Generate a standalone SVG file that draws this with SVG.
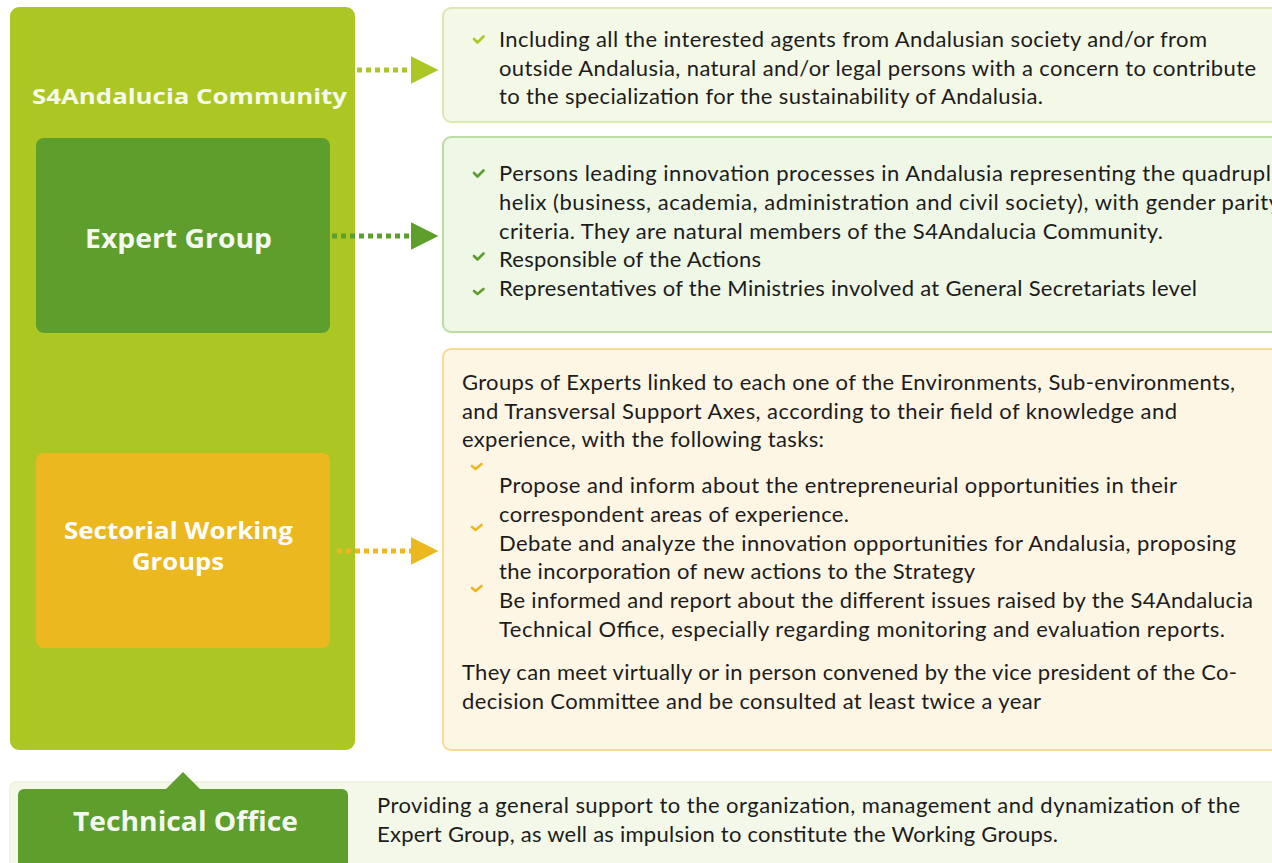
<svg xmlns="http://www.w3.org/2000/svg" width="1272" height="863" viewBox="0 0 1272 863">
<defs>
<style>
.body{font-family:"Lato","Noto Sans","Liberation Sans",sans-serif;font-size:22px;fill:#1c1c1c}
.head{font-family:"Open Sans","Noto Sans","Liberation Sans",sans-serif;font-weight:bold;fill:#ffffff}
.tick{fill:none;stroke-width:2.6;stroke-linecap:round;stroke-linejoin:round}
.dots{fill:none;stroke-width:5;stroke-dasharray:5 4}
</style>
<marker id="arrLime" viewBox="0 0 10 10" refX="0" refY="5" markerWidth="5.5" markerHeight="6" markerUnits="strokeWidth" orient="auto"><path d="M0,0 L10,5 L0,10 Z" fill="#acc723"/></marker>
<marker id="arrGreen" viewBox="0 0 10 10" refX="0" refY="5" markerWidth="5.5" markerHeight="6" markerUnits="strokeWidth" orient="auto"><path d="M0,0 L10,5 L0,10 Z" fill="#5e9e2d"/></marker>
<marker id="arrGold" viewBox="0 0 10 10" refX="0" refY="5" markerWidth="5.5" markerHeight="6" markerUnits="strokeWidth" orient="auto"><path d="M0,0 L10,5 L0,10 Z" fill="#ecb820"/></marker>
</defs>
<rect width="1272" height="863" fill="#ffffff"/>

<g id="community">
<rect x="10" y="7" width="345" height="743" rx="9" fill="#acc723"/>
<text class="head" x="32" y="104" font-size="22" textLength="315" lengthAdjust="spacingAndGlyphs" fill-opacity="0.92">S4Andalucia Community</text>
</g>

<g id="expert-group">
<rect x="36" y="138" width="294" height="195" rx="8" fill="#5e9e2d"/>
<text class="head" x="85" y="248" font-size="27" textLength="187" lengthAdjust="spacingAndGlyphs" fill-opacity="0.95">Expert Group</text>
</g>

<g id="sectorial-groups">
<rect x="36" y="453" width="294" height="195" rx="8" fill="#ecb820"/>
<text class="head" x="64" y="539" font-size="23" textLength="229" lengthAdjust="spacingAndGlyphs" fill="#fdf2d2">Sectorial Working</text>
<text class="head" x="132" y="570" font-size="23" textLength="92" lengthAdjust="spacingAndGlyphs" fill="#fdf2d2">Groups</text>
</g>

<g id="community-desc">
<rect x="443" y="8" width="840" height="114" rx="8" fill="#f4f8e6" stroke="#dde9b4" stroke-width="2"/>
<path class="tick" stroke="#acc723" d="M474,39 l3.5,3.5 l6,-6"/>
<text class="body" x="499" y="47" textLength="708" lengthAdjust="spacing">Including all the interested agents from Andalusian society and/or from</text>
<text class="body" x="499" y="76" textLength="757" lengthAdjust="spacing">outside Andalusia, natural and/or legal persons with a concern to contribute</text>
<text class="body" x="499" y="104" textLength="544" lengthAdjust="spacing">to the specialization for the sustainability of Andalusia.</text>
</g>

<g id="expert-desc">
<rect x="443" y="137" width="840" height="195" rx="8" fill="#eff7e6" stroke="#bddca3" stroke-width="2"/>
<path class="tick" stroke="#5e9e2d" d="M474,173 l3.5,3.5 l6,-6"/>
<path class="tick" stroke="#5e9e2d" d="M474,256 l3.5,3.5 l6,-6"/>
<path class="tick" stroke="#5e9e2d" d="M474,291 l3.5,3 l6,-5"/>
<text class="body" x="499" y="181" textLength="784" lengthAdjust="spacing">Persons leading innovation processes in Andalusia representing the quadruple</text>
<text class="body" x="499" y="210" textLength="781" lengthAdjust="spacing">helix (business, academia, administration and civil society), with gender parity</text>
<text class="body" x="499" y="239" textLength="664" lengthAdjust="spacing">criteria. They are natural members of the S4Andalucia Community.</text>
<text class="body" x="499" y="267" textLength="262" lengthAdjust="spacing">Responsible of the Actions</text>
<text class="body" x="499" y="296" textLength="698" lengthAdjust="spacing">Representatives of the Ministries involved at General Secretariats level</text>
</g>

<g id="sectorial-desc">
<rect x="443" y="349" width="840" height="401" rx="8" fill="#fdf6e4" stroke="#f5dc97" stroke-width="2"/>
<text class="body" x="462" y="390" textLength="773" lengthAdjust="spacing">Groups of Experts linked to each one of the Environments, Sub-environments,</text>
<text class="body" x="462" y="419" textLength="715" lengthAdjust="spacing">and Transversal Support Axes, according to their field of knowledge and</text>
<text class="body" x="462" y="447" textLength="362" lengthAdjust="spacing">experience, with the following tasks:</text>
<path class="tick" stroke="#ecb820" d="M472,466 l3.5,3 l6,-5"/>
<path class="tick" stroke="#ecb820" d="M472,527 l3.5,3 l6,-5"/>
<path class="tick" stroke="#ecb820" d="M472,588 l3.5,3 l6,-5"/>
<text class="body" x="499" y="493" textLength="678" lengthAdjust="spacing">Propose and inform about the entrepreneurial opportunities in their</text>
<text class="body" x="499" y="522" textLength="350" lengthAdjust="spacing">correspondent areas of experience.</text>
<text class="body" x="499" y="551" textLength="737" lengthAdjust="spacing">Debate and analyze the innovation opportunities for Andalusia, proposing</text>
<text class="body" x="499" y="579" textLength="476" lengthAdjust="spacing">the incorporation of new actions to the Strategy</text>
<text class="body" x="499" y="608" textLength="754" lengthAdjust="spacing">Be informed and report about the different issues raised by the S4Andalucia</text>
<text class="body" x="499" y="637" textLength="726" lengthAdjust="spacing">Technical Office, especially regarding monitoring and evaluation reports.</text>
<text class="body" x="462" y="680" textLength="775" lengthAdjust="spacing">They can meet virtually or in person convened by the vice president of the Co-</text>
<text class="body" x="462" y="709" textLength="579" lengthAdjust="spacing">decision Committee and be consulted at least twice a year</text>
</g>

<g id="technical-office">
<rect x="10" y="782" width="1280" height="90" rx="6" fill="#f3f8e8" stroke="#eaf1da" stroke-width="1.5"/>
<path d="M165,790 L183,772 L201,790 Z" fill="#5e9e2d"/>
<rect x="18" y="789" width="330" height="85" rx="6" fill="#5e9e2d"/>
<text class="head" x="73" y="831" font-size="26" textLength="225" lengthAdjust="spacingAndGlyphs" fill-opacity="0.95">Technical Office</text>
<text class="body" x="377" y="813" textLength="863" lengthAdjust="spacing">Providing a general support to the organization, management and dynamization of the</text>
<text class="body" x="377" y="842" textLength="681" lengthAdjust="spacing">Expert Group, as well as impulsion to constitute the Working Groups.</text>
</g>

<g id="connectors">
<line class="dots" stroke="#acc723" x1="357" y1="70" x2="411" y2="70" marker-end="url(#arrLime)"/>
<line class="dots" stroke="#5e9e2d" x1="332" y1="236" x2="411" y2="236" marker-end="url(#arrGreen)"/>
<line class="dots" stroke="#ecb820" x1="337" y1="551" x2="411" y2="551" marker-end="url(#arrGold)"/>
</g>
</svg>
